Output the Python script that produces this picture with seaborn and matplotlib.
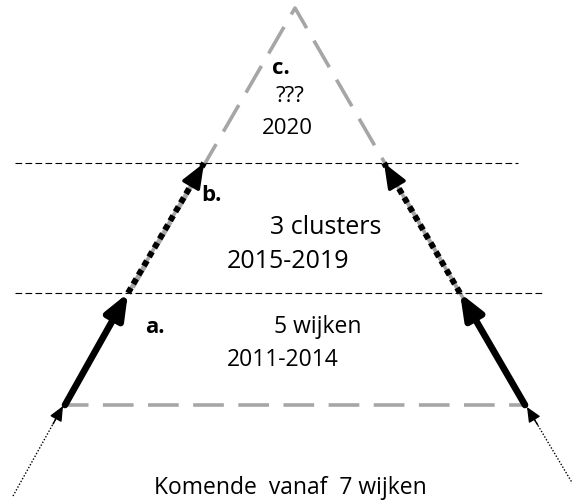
import matplotlib
matplotlib.use("Agg")
import matplotlib.pyplot as plt
import seaborn as sns
import pandas as pd

sns.set_theme(style="white")
plt.rcParams['font.family'] = ['Open Sans', 'DejaVu Sans']
plt.rcParams['text.color'] = 'black'

# diagram geometry (pixel space of the 572x502 picture, y downwards)
apex = (295, 9)
left_pts_x = [65, 128, 204]
left_pts_y = [406, 294, 164]
right_pts_x = [525, 460, 384]
right_pts_y = [406, 294, 164]
base_y = 406
level_y = [164, 294]
level_x_end = [518, 543]
feed_left = (13, 497)
feed_right = (580, 497)

labels = ["c.", "b.", "a."]
label_pos = [(281, 68), (211, 196), (155, 328)]
texts = ["???", "2020", "3 clusters", "2015-2019", "5 wijken", "2011-2014",
         "Komende  vanaf  7 wijken"]
text_pos = [(290, 97), (287, 129), (326, 228), (288, 262), (318, 327),
            (283, 360), (290, 488)]
text_size = [16, 16, 18, 18, 16.5, 16.5, 16.5]

fig = plt.figure(figsize=(5.72, 5.02), dpi=100)
ax = fig.add_axes([0, 0, 1, 1])
ax.set_xlim(0, 572)
ax.set_ylim(502, 0)
ax.axis("off")

grey = "#a6a6a6"
head = "-|>,head_length=0.75,head_width=0.3"
small_head = "-|>,head_length=0.45,head_width=0.2"

# grey dashed triangle
tri = pd.DataFrame({
    "x": [left_pts_x[0], apex[0], right_pts_x[0], left_pts_x[0]],
    "y": [left_pts_y[0], apex[1], right_pts_y[0], base_y],
})
sns.lineplot(data=tri, x="x", y="y", sort=False, estimator=None, color=grey,
             lw=2.6, ax=ax).lines[-1].set_dashes((8.5, 4))

# thin level lines
for y, xe in zip(level_y, level_x_end):
    ax.plot([15, xe], [y, y], color="black", lw=0.8, dashes=(6, 3))

for px, py in [(left_pts_x, left_pts_y), (right_pts_x, right_pts_y)]:
    # solid arrows (bottom segment)
    ax.annotate("", xy=(px[1], py[1]), xytext=(px[0], py[0]),
                arrowprops=dict(arrowstyle=head, color="black", lw=4.8,
                                shrinkA=0, shrinkB=0, mutation_scale=20))
    # dotted arrows (middle segment) with grey line below
    ax.plot(px[1:], py[1:], color=grey, lw=2.6, solid_capstyle="butt")
    ax.plot(px[1:], py[1:], color="black", lw=4.3, dashes=(1, 0.75))
    dx = px[2] - px[1]
    dy = py[2] - py[1]
    ax.annotate("", xy=(px[2], py[2]), xytext=(px[2] - dx * 0.15, py[2] - dy * 0.15),
                arrowprops=dict(arrowstyle=head, color="black", lw=2.5,
                                shrinkA=0, shrinkB=0, mutation_scale=20))

# thin dotted feed arrows
for start, end in [(feed_left, (left_pts_x[0] - 2, left_pts_y[0] + 1)),
                   (feed_right, (right_pts_x[0] + 2, right_pts_y[0] + 2))]:
    ax.plot([start[0], end[0]], [start[1], end[1]], color="black", lw=1,
            dashes=(1, 1.3))
    dx = end[0] - start[0]
    dy = end[1] - start[1]
    ax.annotate("", xy=end, xytext=(end[0] - dx * 0.2, end[1] - dy * 0.2),
                arrowprops=dict(arrowstyle=small_head, color="black", lw=1,
                                shrinkA=0, shrinkB=0, mutation_scale=20))

for lab, (x, y) in zip(labels, label_pos):
    ax.text(x, y, lab, fontsize=16, fontweight="bold", ha="center", va="center")

for t, (x, y), s in zip(texts, text_pos, text_size):
    ax.text(x, y, t, fontsize=s, ha="center", va="center")

fig.savefig("out.png", dpi=100)
